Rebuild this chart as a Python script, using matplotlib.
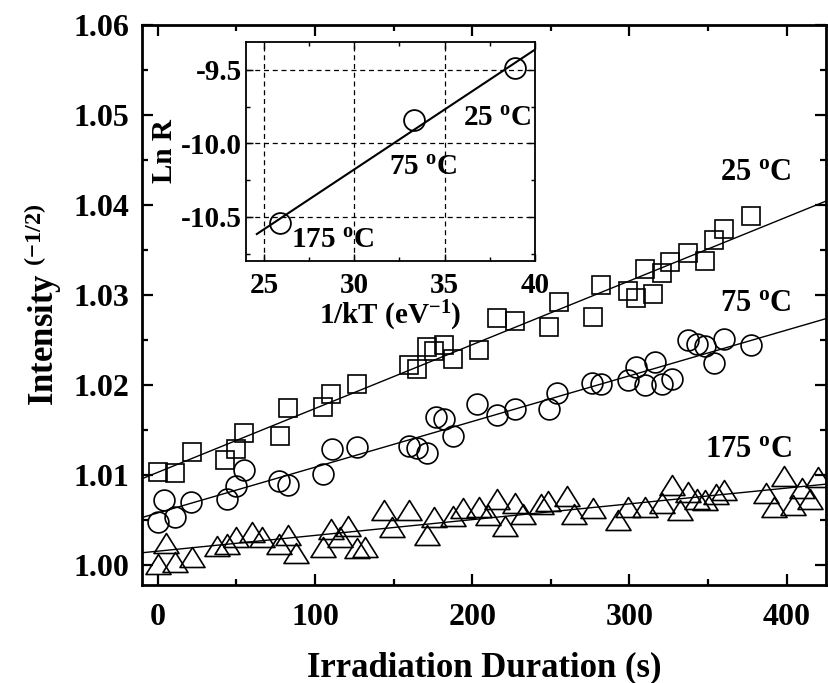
import matplotlib
matplotlib.use('Agg')
import matplotlib.pyplot as plt
import numpy as np
from matplotlib.path import Path
from matplotlib.ticker import MultipleLocator, FormatStrFormatter

# irradiation time (s) and Intensity^(-1/2) for each temperature
t_25 = [0, 11, 22, 43, 50, 55, 78, 83, 105, 110, 127, 160, 165, 171, 176, 182, 188, 204,
        216, 227, 249, 255, 277, 282, 299, 304, 310, 315, 321, 326, 337, 348, 354, 360, 377]
i_25 = [1.0104, 1.0102, 1.0126, 1.0117, 1.0129, 1.0147, 1.0144, 1.0175, 1.0176, 1.0190,
        1.0201, 1.0222, 1.0218, 1.0242, 1.0238, 1.0244, 1.0229, 1.0239, 1.0275, 1.0271,
        1.0265, 1.0292, 1.0276, 1.0311, 1.0304, 1.0297, 1.0329, 1.0301, 1.0324, 1.0337,
        1.0347, 1.0338, 1.0361, 1.0373, 1.0388]

t_75 = [0, 4, 11, 21, 44, 50, 55, 77, 83, 105, 111, 127, 160, 165, 171, 177, 182, 188, 203,
        216, 227, 249, 254, 276, 282, 299, 304, 310, 316, 321, 327, 337, 343, 348, 354, 360, 377]
i_75 = [1.0048, 1.0072, 1.0054, 1.0070, 1.0074, 1.0088, 1.0106, 1.0094, 1.0089, 1.0101,
        1.0129, 1.0131, 1.0132, 1.0130, 1.0125, 1.0165, 1.0162, 1.0144, 1.0179, 1.0167,
        1.0174, 1.0174, 1.0191, 1.0202, 1.0201, 1.0206, 1.0220, 1.0200, 1.0226, 1.0201,
        1.0207, 1.0250, 1.0246, 1.0243, 1.0225, 1.0251, 1.0244]

t_175 = [0, 5, 11, 22, 38, 44, 50, 60, 66, 77, 83, 88, 105, 110, 116, 121, 127, 132, 144, 149,
         160, 171, 176, 188, 194, 204, 210, 216, 221, 227, 232, 244, 248, 260, 265, 277, 293,
         299, 310, 321, 327, 332, 337, 343, 348, 355, 360, 387, 392, 398, 404, 410, 415, 420]
i_175 = [1.0001, 1.0025, 1.0004, 1.0009, 1.0021, 1.0024, 1.0031, 1.0037, 1.0031, 1.0023,
         1.0034, 1.0014, 1.0020, 1.0040, 1.0031, 1.0043, 1.0019, 1.0020, 1.0061, 1.0042,
         1.0061, 1.0034, 1.0053, 1.0055, 1.0063, 1.0065, 1.0056, 1.0073, 1.0044, 1.0069,
         1.0057, 1.0068, 1.0071, 1.0077, 1.0057, 1.0064, 1.0050, 1.0065, 1.0065, 1.0069,
         1.0089, 1.0061, 1.0081, 1.0073, 1.0072, 1.0079, 1.0084, 1.0080, 1.0065, 1.0099,
         1.0067, 1.0086, 1.0073, 1.0098]

# inset: Arrhenius plot
inv_kt = [25.9, 33.3, 38.9]
ln_r = [-10.54, -9.84, -9.49]
temp_labels = ['175 $^{\\mathrm{o}}$C', '75 $^{\\mathrm{o}}$C', '25 $^{\\mathrm{o}}$C']

plt.rcParams['font.family'] = ['Liberation Serif', 'DejaVu Serif']
plt.rcParams['font.weight'] = 'bold'
plt.rcParams['mathtext.fontset'] = 'custom'
plt.rcParams['mathtext.rm'] = 'Liberation Serif:bold'
plt.rcParams['mathtext.it'] = 'Liberation Serif:bold'
plt.rcParams['mathtext.bf'] = 'Liberation Serif:bold'
plt.rcParams['mathtext.sf'] = 'Liberation Serif'

tri = Path([(0, 0.8), (-1, -0.8), (1, -0.8), (0, 0.8)], closed=True)


def style_axes(ax, lw, size, major, minor):
    for s in ax.spines.values():
        s.set_linewidth(lw)
    ax.tick_params(which='both', direction='in', top=True, right=True, width=lw * 0.8,
                   labelsize=size)
    ax.tick_params(which='major', length=major)
    ax.tick_params(which='minor', length=minor)
    for lab in ax.get_xticklabels() + ax.get_yticklabels():
        lab.set_fontweight('bold')


fig = plt.figure(figsize=(8.29, 6.83), dpi=100)
ax = fig.add_axes([0.1713, 0.1435, 0.8251, 0.82])

xlim = (-10, 425)
x_grid = np.linspace(xlim[0], xlim[1], 50)
for t, i, marker, ms in [(t_25, i_25, 's', 13.5), (t_75, i_75, 'o', 15), (t_175, i_175, tri, 18)]:
    ax.plot(t, i, linestyle='none', marker=marker, markersize=ms, markerfacecolor='none',
            markeredgecolor='black', markeredgewidth=1.2)
    p = np.polyfit(t, i, 1)
    ax.plot(x_grid, np.polyval(p, x_grid), '-', color='black', linewidth=1.0)

ax.set_xlim(*xlim)
ax.set_ylim(0.9978, 1.06)
ax.xaxis.set_major_locator(MultipleLocator(100))
ax.xaxis.set_minor_locator(MultipleLocator(50))
ax.yaxis.set_major_locator(MultipleLocator(0.01))
ax.yaxis.set_minor_locator(MultipleLocator(0.005))
ax.yaxis.set_major_formatter(FormatStrFormatter('%.2f'))
style_axes(ax, 2.0, 23, 8, 4.5)
ax.tick_params(axis='x', pad=13)
ax.tick_params(axis='y', pad=9)
ax.set_xlabel('Irradiation Duration (s)', fontsize=25, fontweight='bold', labelpad=14)
ax.set_ylabel('Intensity $^{\\mathsf{(-1/2)}}$', fontsize=25, fontweight='bold', labelpad=7)

ax.text(403, 1.0436, temp_labels[2], fontsize=22, fontweight='bold', ha='right', va='center')
ax.text(403, 1.0291, temp_labels[1], fontsize=22, fontweight='bold', ha='right', va='center')
ax.text(403, 1.0128, temp_labels[0], fontsize=22, fontweight='bold', ha='right', va='center')

# inset
ins = fig.add_axes([0.2967, 0.6179, 0.3486, 0.3206])
ins.plot(inv_kt, ln_r, linestyle='none', marker='o', markersize=15, markerfacecolor='none',
         markeredgecolor='black', markeredgewidth=1.3)
p = np.polyfit(inv_kt, ln_r, 1)
k_grid = np.linspace(24.6, 40, 20)
ins.plot(k_grid, np.polyval(p, k_grid), '-', color='black', linewidth=1.5)
ins.set_xlim(24, 40)
ins.set_ylim(-10.8, -9.31)
ins.xaxis.set_major_locator(MultipleLocator(5))
ins.xaxis.set_minor_locator(MultipleLocator(2.5))
ins.yaxis.set_major_locator(MultipleLocator(0.5))
ins.yaxis.set_minor_locator(MultipleLocator(0.25))
ins.yaxis.set_major_formatter(FormatStrFormatter('%.1f'))
ins.grid(True, which='major', linestyle=(0, (4, 3)), color='black', linewidth=0.9)
style_axes(ins, 1.3, 21, 5, 3)
ins.tick_params(axis='x', pad=8)
ins.tick_params(axis='y', pad=3)
ins.set_xlabel('1/kT (eV$^{-1}$)', fontsize=21, fontweight='bold', labelpad=0)
ins.set_ylabel('Ln R', fontsize=21, fontweight='bold', labelpad=2)

ins.text(28.8, -10.66, temp_labels[0], fontsize=21, fontweight='bold', ha='center', va='center')
ins.text(33.8, -10.16, temp_labels[1], fontsize=21, fontweight='bold', ha='center', va='center')
ins.text(37.9, -9.83, temp_labels[2], fontsize=21, fontweight='bold', ha='center', va='center')

fig.savefig('out.png', dpi=100)
